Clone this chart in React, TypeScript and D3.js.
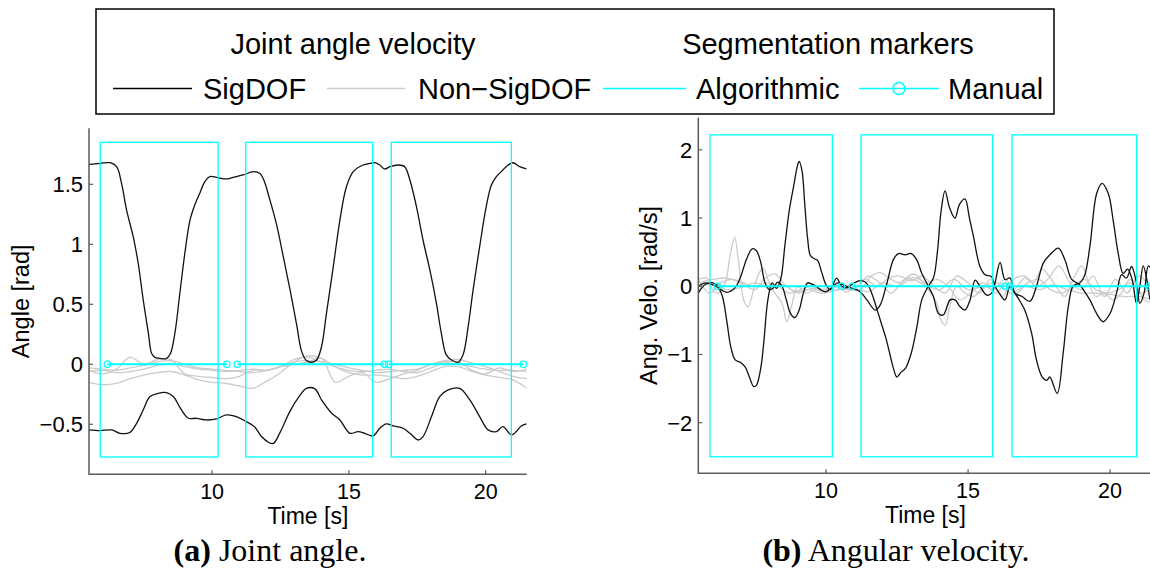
import { useEffect, useRef } from "react";
import * as d3 from "d3";

// ---- data ----
// joint angle, significant DOFs: [time s, angle rad]
const angleSigA = [
  [5.5, 1.667], [5.9, 1.675], [6.27, 1.68], [6.51, 1.647], [6.69, 1.508], [6.87, 1.29], [7.12, 1.06],
  [7.3, 0.84], [7.48, 0.54], [7.67, 0.26], [7.79, 0.09], [7.91, 0.058], [8.09, 0.05], [8.33, 0.047],
  [8.48, 0.092], [8.64, 0.26], [8.82, 0.59], [9.0, 0.92], [9.19, 1.2], [9.37, 1.33], [9.55, 1.425],
  [9.73, 1.52], [9.92, 1.564], [10.16, 1.558], [10.52, 1.545], [10.77, 1.558], [11.13, 1.578],
  [11.5, 1.606], [11.75, 1.59], [11.9, 1.53], [12.1, 1.38], [12.35, 1.17], [12.6, 0.9], [12.85, 0.62],
  [13.09, 0.33], [13.27, 0.11], [13.45, 0.031], [13.64, 0.017], [13.82, 0.036], [14.0, 0.147],
  [14.18, 0.425], [14.43, 0.814], [14.67, 1.2], [14.91, 1.48], [15.16, 1.606], [15.52, 1.661],
  [15.77, 1.675], [15.95, 1.68], [16.13, 1.661], [16.31, 1.628], [16.5, 1.647], [16.8, 1.661],
  [17.04, 1.647], [17.23, 1.536], [17.47, 1.314], [17.71, 1.036], [17.96, 0.786], [18.2, 0.508],
  [18.38, 0.258], [18.56, 0.078], [18.75, 0.036], [18.99, 0.017], [19.17, 0.078], [19.36, 0.314],
  [19.54, 0.619], [19.78, 0.98], [20.02, 1.314], [20.21, 1.494], [20.39, 1.564], [20.57, 1.606],
  [20.82, 1.661], [21.0, 1.68], [21.24, 1.647], [21.49, 1.628],
];
const angleSigB = [
  [5.5, -0.547], [5.9, -0.553], [6.33, -0.547], [6.63, -0.575], [6.99, -0.569], [7.24, -0.492],
  [7.48, -0.381], [7.73, -0.269], [8.03, -0.242], [8.33, -0.236], [8.58, -0.269], [8.88, -0.381],
  [9.13, -0.45], [9.43, -0.45], [9.79, -0.464], [10.16, -0.456], [10.52, -0.422], [10.89, -0.436],
  [11.25, -0.478], [11.55, -0.52], [11.8, -0.6], [12.06, -0.65], [12.24, -0.66], [12.48, -0.57],
  [12.85, -0.39], [13.21, -0.26], [13.45, -0.2], [13.76, -0.205], [14.0, -0.297], [14.37, -0.408],
  [14.67, -0.464], [15.04, -0.575], [15.34, -0.561], [15.58, -0.575], [15.89, -0.597], [16.13, -0.533],
  [16.37, -0.497], [16.62, -0.514], [16.98, -0.533], [17.23, -0.575], [17.53, -0.631], [17.71, -0.603],
  [18.02, -0.436], [18.32, -0.269], [18.63, -0.214], [19.05, -0.2], [19.42, -0.297], [19.78, -0.436],
  [20.09, -0.547], [20.39, -0.561], [20.63, -0.519], [20.94, -0.589], [21.12, -0.561], [21.3, -0.514],
  [21.49, -0.497],
];

// joint angle, non-significant DOFs (sampled every 0.5 s)
const grayTime = [
  5.5, 6, 6.5, 7, 7.5, 8, 8.5, 9, 9.5, 10, 10.5, 11, 11.5, 12, 12.5, 13, 13.5,
  14, 14.5, 15, 15.5, 16, 16.5, 17, 17.5, 18, 18.5, 19, 19.5, 20, 20.5, 21, 21.5,
];
const angleNonA = [-0.03, -0.04, -0.05, -0.03, -0.01, 0.02, 0.03, 0.0, -0.03, -0.04, -0.05, -0.06, -0.07, -0.05, -0.02, 0.02, 0.03, 0.02, -0.02, -0.05, -0.06, -0.05, -0.04, -0.06, -0.07, -0.03, 0.01, 0.0, -0.02, -0.04, -0.05, -0.05, -0.06];
const angleNonB = [-0.15, -0.17, -0.16, -0.12, -0.09, -0.07, -0.06, -0.09, -0.13, -0.15, -0.16, -0.18, -0.2, -0.14, -0.07, 0.02, 0.07, 0.05, -0.02, -0.07, -0.09, -0.09, -0.1, -0.12, -0.1, -0.06, -0.02, -0.02, -0.06, -0.09, -0.11, -0.13, -0.2];
const angleNonC = [-0.05, -0.08, -0.04, 0.06, 0.0, 0.04, 0.04, -0.08, -0.1, -0.11, -0.12, -0.1, -0.05, -0.05, -0.02, 0.0, 0.02, 0.05, -0.15, -0.1, -0.07, -0.15, -0.12, -0.08, -0.05, 0.0, 0.02, 0.02, -0.05, -0.08, -0.03, -0.06, -0.04];
const angleNonD = [-0.06, -0.05, -0.07, -0.06, -0.04, -0.01, 0.01, -0.02, -0.04, -0.05, -0.06, -0.05, -0.04, -0.05, -0.02, 0.04, 0.06, 0.02, 0.0, -0.03, -0.05, -0.07, -0.06, -0.05, -0.04, 0.0, 0.03, 0.04, 0.01, -0.02, -0.06, -0.1, -0.12];

// angular velocity, significant DOFs: [time s, rad/s]
const velSigA = [
  [5.5, 0.0], [5.75, 0.05], [6.0, 0.02], [6.2, -0.02], [6.35, -0.15], [6.5, -0.5], [6.65, -0.9],
  [6.8, -1.08], [7.0, -1.12], [7.15, -1.18], [7.3, -1.33], [7.45, -1.47], [7.55, -1.45], [7.7, -1.2],
  [7.8, -0.85], [7.95, -0.2], [8.1, 0.05], [8.25, -0.03], [8.4, 0.1], [8.55, 0.6], [8.7, 1.1],
  [8.85, 1.45], [9.0, 1.78], [9.05, 1.83], [9.15, 1.7], [9.25, 1.2], [9.35, 0.7], [9.45, 0.45],
  [9.6, 0.4], [9.7, 0.38], [9.85, 0.2], [10.0, 0.02], [10.15, -0.05], [10.37, 0.12], [10.55, 0.0],
  [10.75, -0.02], [10.95, 0.04], [11.15, 0.08], [11.35, 0.07], [11.5, 0.0], [11.65, -0.15],
  [11.8, -0.35], [11.95, -0.55], [12.1, -0.75], [12.25, -1.0], [12.37, -1.2], [12.49, -1.33],
  [12.62, -1.27], [12.8, -1.2], [13.0, -0.98], [13.2, -0.59], [13.37, -0.2], [13.6, 0.0], [13.78, 0.12],
  [13.92, 0.5], [14.05, 1.1], [14.19, 1.4], [14.35, 1.15], [14.54, 1.0], [14.7, 1.2], [14.89, 1.28],
  [15.05, 1.0], [15.19, 0.73], [15.42, 0.29], [15.6, 0.17], [15.83, 0.14], [15.95, 0.0], [16.1, -0.1],
  [16.3, -0.2], [16.48, 0.0], [16.65, -0.1], [16.83, -0.22], [17.0, -0.35], [17.24, -0.69],
  [17.41, -1.08], [17.6, -1.32], [17.77, -1.38], [17.88, -1.33], [18.14, -1.57], [18.35, -0.98],
  [18.53, -0.3], [18.7, 0.0], [18.94, 0.05], [19.1, 0.15], [19.29, 0.58], [19.53, 1.36], [19.72, 1.51],
  [19.94, 1.36], [20.11, 0.97], [20.29, 0.48], [20.46, 0.19], [20.62, 0.25], [20.78, 0.1],
  [20.93, -0.25], [21.05, 0.0], [21.17, 0.3], [21.32, 0.05], [21.42, -0.2], [21.5, -0.1],
];
const velSigB = [
  [5.5, -0.1], [5.75, 0.03], [6.0, 0.05], [6.15, 0.02], [6.3, -0.05], [6.5, -0.09], [6.8, -0.02],
  [7.0, 0.15], [7.2, 0.4], [7.4, 0.55], [7.55, 0.52], [7.7, 0.35], [7.85, 0.05], [8.0, -0.05],
  [8.15, -0.02], [8.3, 0.06], [8.45, 0.0], [8.6, -0.2], [8.75, -0.4], [8.9, -0.46], [9.05, -0.35],
  [9.2, -0.1], [9.35, 0.05], [9.5, 0.03], [9.65, 0.0], [9.8, -0.05], [10.0, -0.08], [10.2, -0.02],
  [10.4, 0.05], [10.6, 0.02], [10.85, -0.02], [11.2, -0.08], [11.44, -0.2], [11.73, -0.35],
  [11.9, -0.28], [12.14, 0.04], [12.37, 0.39], [12.55, 0.48], [12.78, 0.46], [13.0, 0.48],
  [13.19, 0.39], [13.37, 0.19], [13.6, 0.0], [13.78, -0.15], [13.96, -0.4], [14.13, -0.42],
  [14.37, -0.2], [14.54, -0.2], [14.72, -0.3], [14.89, -0.35], [15.07, -0.2], [15.25, 0.09],
  [15.42, 0.0], [15.66, -0.13], [15.83, -0.1], [15.95, 0.05], [16.13, 0.35], [16.3, 0.1],
  [16.48, 0.12], [16.65, -0.1], [16.9, -0.15], [17.18, -0.22], [17.41, 0.0], [17.65, 0.34],
  [17.88, 0.46], [18.18, 0.56], [18.41, 0.39], [18.65, 0.1], [18.94, 0.02], [19.06, -0.05],
  [19.29, -0.2], [19.53, -0.4], [19.76, -0.52], [20.0, -0.4], [20.23, -0.1], [20.41, 0.17],
  [20.58, 0.12], [20.76, 0.29], [20.93, 0.05], [21.05, -0.25], [21.2, -0.1], [21.35, 0.3], [21.5, 0.2],
];

// angular velocity, non-significant DOFs
const velNonA = [
  [5.5, 0.1], [5.8, 0.12], [6.0, -0.05], [6.2, -0.1], [6.45, 0.05], [6.62, 0.45], [6.78, 0.72],
  [6.92, 0.35], [7.1, -0.2], [7.25, -0.3], [7.45, -0.05], [7.65, 0.2], [7.8, 0.26], [8.0, 0.05],
  [8.2, -0.1], [8.45, -0.25], [8.62, -0.52], [8.78, -0.3], [9.0, 0.0], [9.3, -0.1], [9.6, -0.05],
  [10.0, -0.08], [10.4, 0.0], [10.8, -0.05], [11.2, -0.05], [11.6, 0.15], [11.9, 0.2], [12.3, 0.1],
  [12.6, 0.05], [12.9, 0.12], [13.3, 0.1], [13.6, -0.05], [13.9, -0.25], [14.05, -0.5], [14.2, -0.57],
  [14.35, -0.3], [14.6, 0.0], [14.9, -0.1], [15.2, -0.15], [15.6, 0.0], [16.0, -0.1], [16.3, 0.05],
  [16.6, -0.05], [17.0, 0.12], [17.3, 0.05], [17.6, 0.25], [17.85, 0.15], [18.1, 0.0], [18.4, -0.15],
  [18.7, 0.1], [19.0, 0.3], [19.25, 0.05], [19.5, -0.15], [19.8, -0.1], [20.1, -0.2], [20.4, -0.1],
  [20.7, 0.1], [21.0, -0.05], [21.2, -0.2], [21.5, -0.25],
];
const velNonB = [
  [5.5, 0.05], [6.0, 0.1], [6.5, 0.12], [7.0, 0.05], [7.5, -0.05], [7.8, 0.1], [8.2, 0.18], [8.6, 0.0],
  [9.0, -0.08], [9.4, -0.05], [9.8, -0.1], [10.2, -0.08], [10.6, -0.02], [11.0, 0.05], [11.4, 0.1],
  [11.8, 0.0], [12.2, 0.12], [12.6, 0.15], [13.0, 0.08], [13.4, 0.15], [13.8, 0.0], [14.2, -0.1],
  [14.6, 0.15], [15.0, 0.05], [15.4, -0.1], [15.8, 0.1], [16.2, -0.15], [16.6, 0.1], [17.0, 0.15],
  [17.4, 0.0], [17.8, 0.1], [18.2, 0.3], [18.6, 0.05], [19.0, -0.05], [19.4, 0.15], [19.8, -0.15],
  [20.2, 0.1], [20.6, -0.1], [21.0, 0.15], [21.5, -0.05],
];
const velNonC = [
  [5.5, 0.1], [5.9, -0.1], [6.3, 0.05], [6.7, 0.1], [7.1, 0.05], [7.5, 0.0], [7.9, 0.05], [8.3, 0.0],
  [8.7, -0.1], [9.1, -0.05], [9.5, 0.0], [9.9, -0.05], [10.3, 0.02], [10.7, -0.08], [11.1, 0.0],
  [11.5, 0.15], [11.9, 0.05], [12.3, -0.1], [12.7, 0.08], [13.1, 0.18], [13.5, 0.05], [13.9, 0.1],
  [14.3, 0.0], [14.7, -0.2], [15.1, -0.1], [15.5, 0.05], [15.9, -0.05], [16.3, 0.1], [16.7, -0.1],
  [17.1, 0.05], [17.5, 0.1], [17.9, -0.05], [18.3, -0.1], [18.7, 0.0], [19.1, 0.1], [19.5, -0.05],
  [19.9, -0.1], [20.3, -0.05], [20.7, 0.05], [21.1, -0.1], [21.5, 0.0],
];
const velNonD = [
  [5.5, -0.05], [6.0, 0.05], [6.5, -0.05], [7.0, -0.02], [7.5, 0.05], [8.0, -0.02], [8.5, 0.02],
  [9.0, -0.1], [9.5, -0.03], [10.0, -0.05], [10.5, -0.05], [11.0, -0.03], [11.5, -0.08], [12.0, 0.05],
  [12.5, 0.0], [13.0, 0.1], [13.5, 0.02], [14.0, -0.05], [14.5, 0.1], [15.0, -0.05], [15.5, 0.0],
  [16.0, 0.05], [16.5, -0.1], [17.0, 0.0], [17.5, -0.05], [18.0, 0.02], [18.5, -0.05], [19.0, -0.1],
  [19.5, -0.1], [20.0, -0.12], [20.5, -0.15], [21.0, -0.15], [21.5, -0.2],
];

// segmentation (start, end) in seconds
const algoSegments = [[5.91, 10.22], [11.23, 15.87], [16.55, 20.94]];
const manualSegments = [[6.17, 10.54], [10.92, 16.3], [16.46, 21.38]];

const timeTicks = [10, 15, 20];
const angleTicks = [-0.5, 0, 0.5, 1, 1.5];
const velTicks = [-2, -1, 0, 1, 2];

const SANS = "'Liberation Sans', Arial, Helvetica, sans-serif";
const SERIF = "'Liberation Serif', 'Times New Roman', serif";
const CYAN = "#00ffff";
const GRAY = "#cbcbcb";
const AXIS = "#5c5c5c";

const fmt = (v) => (v < 0 ? "\u2212" : "") + Math.abs(v);

function drawPanel(svg, cfg) {
  const x = d3.scaleLinear().domain([5.5, 21.5]).range(cfg.xRange);
  const y = d3.scaleLinear().domain(cfg.yDomain).range(cfg.yRange);
  const [x0, x1] = cfg.xRange;
  const [yb, yt] = cfg.yRange;
  const g = svg.append("g");

  const line = d3.line().x(d => x(d[0])).y(d => y(d[1])).curve(d3.curveCatmullRom.alpha(0.5));

  cfg.gray.forEach(s => {
    g.append("path").attr("d", line(s)).attr("fill", "none")
      .attr("stroke", GRAY).attr("stroke-width", 1.3);
  });
  cfg.black.forEach(s => {
    g.append("path").attr("d", line(s)).attr("fill", "none")
      .attr("stroke", "#111").attr("stroke-width", 1.3);
  });

  // algorithmic segments as boxes
  algoSegments.forEach(([a, b]) => {
    g.append("rect")
      .attr("x", x(a)).attr("y", y(cfg.boxY[1]))
      .attr("width", x(b) - x(a)).attr("height", y(cfg.boxY[0]) - y(cfg.boxY[1]))
      .attr("fill", "none").attr("stroke", CYAN).attr("stroke-width", 1.3);
  });

  // manual segments
  manualSegments.forEach(([a, b]) => {
    g.append("line").attr("x1", x(a)).attr("x2", x(b)).attr("y1", y(0)).attr("y2", y(0))
      .attr("stroke", CYAN).attr("stroke-width", 2);
    [a, b].forEach(t => {
      g.append("circle").attr("cx", x(t)).attr("cy", y(0)).attr("r", 3.2)
        .attr("fill", "none").attr("stroke", CYAN).attr("stroke-width", 1.3);
    });
  });

  // axes
  g.append("path")
    .attr("d", `M${x0},${yt}V${yb}H${x1}`)
    .attr("fill", "none").attr("stroke", AXIS).attr("stroke-width", 1.5);

  timeTicks.forEach(t => {
    g.append("line").attr("x1", x(t)).attr("x2", x(t)).attr("y1", yb).attr("y2", yb - 4)
      .attr("stroke", AXIS).attr("stroke-width", 1.2);
    g.append("text").attr("x", x(t)).attr("y", yb + 24.5).attr("text-anchor", "middle")
      .attr("font-family", SANS).attr("font-size", 21.5).text(t);
  });
  cfg.yTicks.forEach(v => {
    g.append("line").attr("x1", x0).attr("x2", x0 + 4).attr("y1", y(v)).attr("y2", y(v))
      .attr("stroke", AXIS).attr("stroke-width", 1.2);
    g.append("text").attr("x", x0 - 6).attr("y", y(v)).attr("dy", "0.36em")
      .attr("text-anchor", "end").attr("font-family", SANS).attr("font-size", 22).text(fmt(v));
  });

  g.append("text").attr("x", (x0 + x1) / 2).attr("y", yb + 49.5).attr("text-anchor", "middle")
    .attr("font-family", SANS).attr("font-size", 23).text("Time [s]");
  g.append("text")
    .attr("transform", `translate(${cfg.yLabelX},${(yb + yt) / 2}) rotate(-90)`)
    .attr("text-anchor", "middle").attr("font-family", SANS).attr("font-size", 23.5)
    .text(cfg.yLabel);

  const cap = g.append("text").attr("x", cfg.captionX).attr("y", 561)
    .attr("text-anchor", "middle").attr("font-family", SERIF).attr("font-size", 32);
  cap.append("tspan").attr("font-weight", "bold").text(cfg.captionTag);
  cap.append("tspan").text(" " + cfg.caption);
}

function drawLegend(svg) {
  const g = svg.append("g").attr("font-family", SANS).attr("font-size", 29);
  g.append("rect").attr("x", 96).attr("y", 9).attr("width", 958).attr("height", 105)
    .attr("fill", "#fff").attr("stroke", "#000").attr("stroke-width", 1.5);
  g.append("text").attr("x", 353).attr("y", 54).attr("text-anchor", "middle").text("Joint angle velocity");
  g.append("text").attr("x", 828).attr("y", 54).attr("text-anchor", "middle").text("Segmentation markers");

  const items = [
    { x1: 113, x2: 192, color: "#000", label: "SigDOF", tx: 203 },
    { x1: 327, x2: 405, color: GRAY, label: "Non\u2212SigDOF", tx: 418 },
    { x1: 603, x2: 686, color: CYAN, label: "Algorithmic", tx: 696 },
    { x1: 859, x2: 939, color: CYAN, label: "Manual", tx: 948, marker: true },
  ];
  items.forEach(it => {
    g.append("line").attr("x1", it.x1).attr("x2", it.x2).attr("y1", 88.5).attr("y2", 88.5)
      .attr("stroke", it.color).attr("stroke-width", 1.5);
    if (it.marker) {
      g.append("circle").attr("cx", (it.x1 + it.x2) / 2).attr("cy", 88.5).attr("r", 6)
        .attr("fill", "none").attr("stroke", it.color).attr("stroke-width", 1.5);
    }
    g.append("text").attr("x", it.tx).attr("y", 98.5).text(it.label);
  });
}

export default function App() {
  const ref = useRef(null);

  useEffect(() => {
    const svg = d3.select(ref.current);
    svg.selectAll("*").remove();

    const pair = (vals) => vals.map((v, i) => [grayTime[i], v]);

    drawPanel(svg, {
      xRange: [89, 526.7],
      yDomain: [-0.917, 1.967],
      yRange: [474.3, 128.3],
      boxY: [-0.7725, 1.85],
      yTicks: angleTicks,
      yLabel: "Angle [rad]",
      yLabelX: 28.5,
      gray: [pair(angleNonA), pair(angleNonB), pair(angleNonC), pair(angleNonD)],
      black: [angleSigA, angleSigB],
      captionX: 270,
      captionTag: "(a)",
      caption: "Joint angle.",
    });
    drawPanel(svg, {
      xRange: [698.3, 1152.6],
      yDomain: [-2.742, 2.47],
      yRange: [473.3, 117.8],
      boxY: [-2.5, 2.22],
      yTicks: velTicks,
      yLabel: "Ang. Velo. [rad/s]",
      yLabelX: 657,
      gray: [velNonA, velNonB, velNonC, velNonD],
      black: [velSigA, velSigB],
      captionX: 896,
      captionTag: "(b)",
      caption: "Angular velocity.",
    });
    drawLegend(svg);
  }, []);

  return (
    <svg ref={ref} width={1150} height={575}
      style={{ position: "absolute", left: 0, top: 0, background: "#fff" }} />
  );
}
